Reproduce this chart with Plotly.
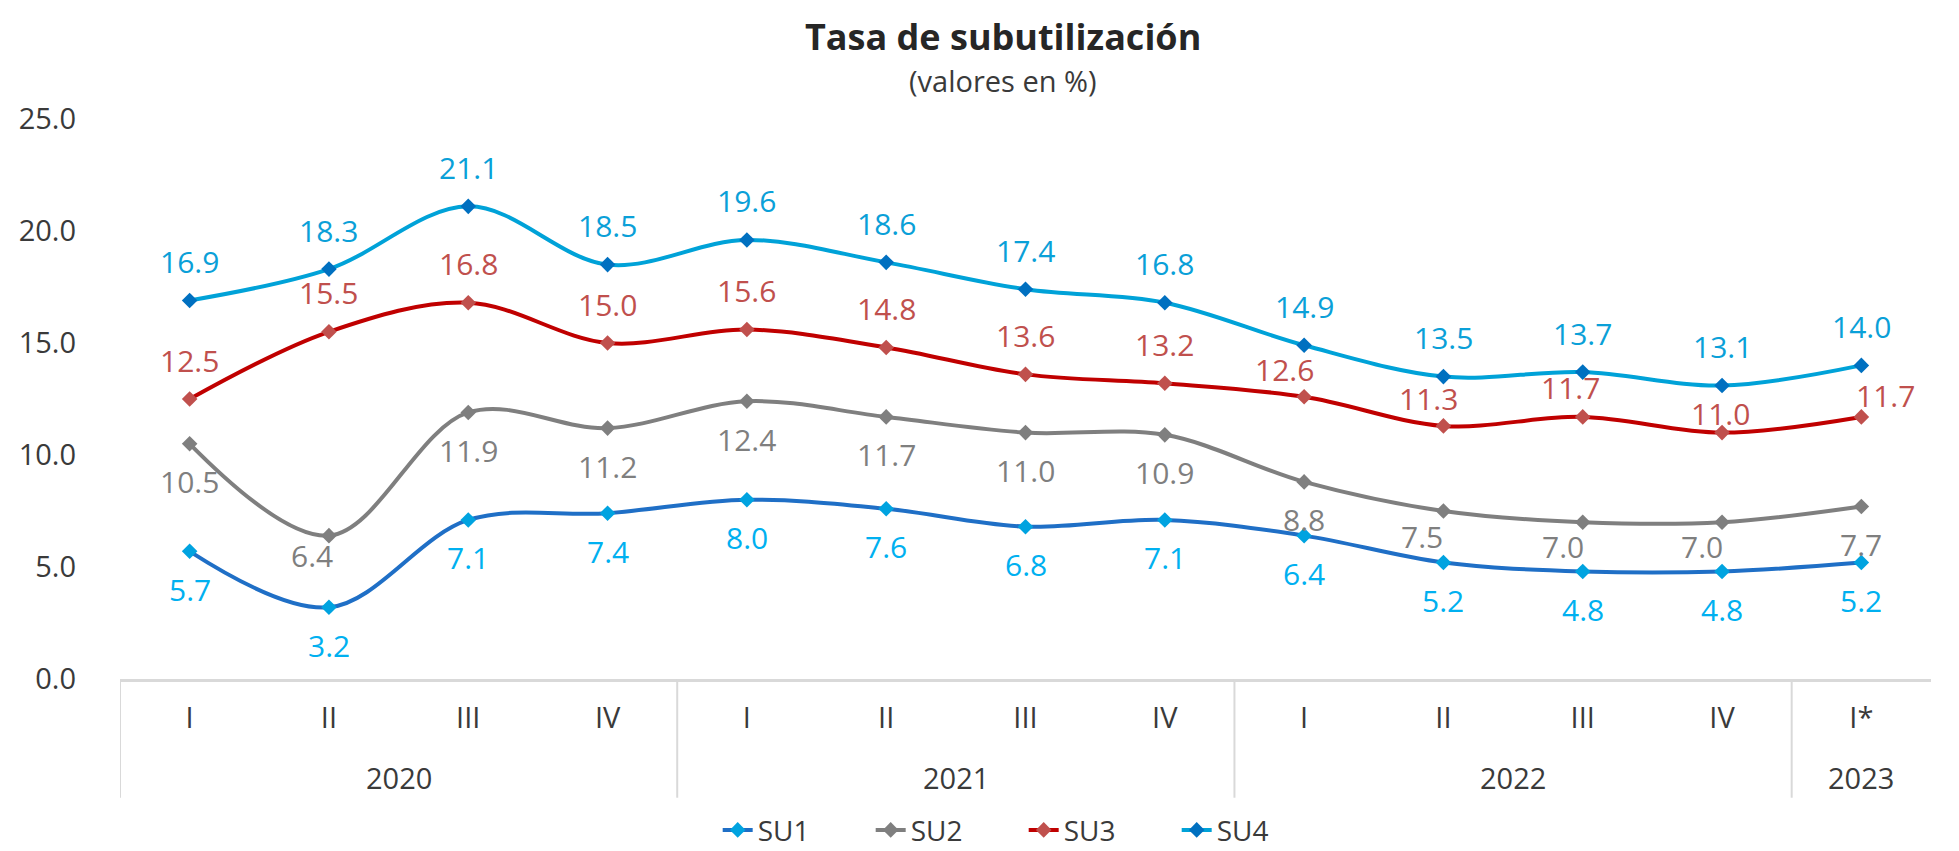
import plotly.graph_objects as go

years = ["2020"] * 4 + ["2021"] * 4 + ["2022"] * 4 + ["2023"]
quarters = ["I", "II", "III", "IV", "I", "II", "III", "IV", "I", "II", "III", "IV", "I*"]

su1 = [5.7, 3.2, 7.1, 7.4, 8.0, 7.6, 6.8, 7.1, 6.4, 5.2, 4.8, 4.8, 5.2]
su2 = [10.5, 6.4, 11.9, 11.2, 12.4, 11.7, 11.0, 10.9, 8.8, 7.5, 7.0, 7.0, 7.7]
su3 = [12.5, 15.5, 16.8, 15.0, 15.6, 14.8, 13.6, 13.2, 12.6, 11.3, 11.7, 11.0, 11.7]
su4 = [16.9, 18.3, 21.1, 18.5, 19.6, 18.6, 17.4, 16.8, 14.9, 13.5, 13.7, 13.1, 14.0]

FONT = "Open Sans"
TXT = "#3a3a3a"
pos = list(range(len(quarters)))

# label nudges (px), as placed in the original chart
up = [39] * 13
down = [-38] * 13
su2_dy = down[:]
su2_dx = [0] * 13
for i, (dx, dy) in {1: (-17, -20), 9: (-21, -25), 10: (-20, -24), 11: (-20, -24)}.items():
    su2_dx[i], su2_dy[i] = dx, dy
su3_dy = up[:]
su3_dx = [0] * 13
for i, (dx, dy) in {8: (-20, 27), 9: (-15, 27), 10: (-12, 29), 11: (-2, 19), 12: (24, 21)}.items():
    su3_dx[i], su3_dy[i] = dx, dy

series = [
    # name, values, line colour, marker colour, label colour, dx, dy
    ("SU1", su1, "#1f6fc6", "#00a3e0", "#00b0f0", [0] * 13, down),
    ("SU2", su2, "#7f7f7f", "#7f7f7f", "#7f7f7f", su2_dx, su2_dy),
    ("SU3", su3, "#c00000", "#c0504d", "#c0504d", su3_dx, su3_dy),
    ("SU4", su4, "#00a2d8", "#0070c0", "#0aa0d8", [0] * 13, up),
]

fig = go.Figure()
annotations = []
for name, vals, lc, mc, tc, dxs, dys in series:
    fig.add_trace(go.Scatter(
        x=pos, y=vals, name=name, mode="lines+markers",
        line=dict(color=lc, width=4, shape="spline", smoothing=1.0),
        marker=dict(symbol="diamond", size=12, color=mc),
        hovertemplate=name + ": %{y:.1f}<extra></extra>",
    ))
    for xi, v, dx, dy in zip(pos, vals, dxs, dys):
        annotations.append(dict(
            x=xi, y=v, text=f"{v:.1f}", showarrow=False, xshift=dx, yshift=dy,
            xanchor="center", yanchor="middle",
            font=dict(family=FONT, size=30, color=tc),
        ))

# year groups: labels under the quarters and dividers between groups
groups = []
for i, yr in enumerate(years):
    if not groups or groups[-1][0] != yr:
        groups.append([yr, i, i])
    else:
        groups[-1][2] = i
shapes = []
for yr, a, b in groups:
    annotations.append(dict(
        x=(a + b) / 2, y=-0.175, xref="x", yref="paper", text=yr, showarrow=False,
        yanchor="middle", font=dict(family=FONT, size=29, color=TXT),
    ))
    shapes.append(dict(
        type="line", xref="x", yref="paper", x0=a - 0.5, x1=a - 0.5, y0=0, y1=-0.212,
        line=dict(color="#d9d9d9", width=2),
    ))

annotations += [
    dict(text="<b>Tasa de subutilización</b>", x=0.4876, y=1.1473, xref="paper", yref="paper",
         showarrow=False, yanchor="middle", font=dict(family=FONT, size=36, color="#262626")),
    dict(text="(valores en %)", x=0.4876, y=1.0679, xref="paper", yref="paper",
         showarrow=False, yanchor="middle", font=dict(family=FONT, size=29, color=TXT)),
]

# the page body adds an 8px offset, so the figure is 8px smaller than the window
fig.update_layout(
    width=1951, height=843,
    plot_bgcolor="white", paper_bgcolor="white",
    font=dict(family=FONT, size=29, color=TXT),
    margin=dict(l=112, r=28, t=111, b=172, autoexpand=False),
    showlegend=True,
    legend=dict(orientation="h", x=0.499, xanchor="center", y=-0.27, yanchor="middle",
                font=dict(family=FONT, size=28, color=TXT), entrywidth=108),
    xaxis=dict(range=[-0.5, len(quarters) - 0.5], tickmode="array", tickvals=pos, ticktext=quarters,
               showline=True, linecolor="#d9d9d9", linewidth=3, showgrid=False, zeroline=False,
               ticks="", ticklabelstandoff=11, tickfont=dict(family=FONT, size=29, color=TXT)),
    yaxis=dict(range=[0, 25], dtick=5, tickformat=".1f", showgrid=False, zeroline=False,
               showline=False, ticks="", ticklabelstandoff=43,
               tickfont=dict(family=FONT, size=29, color=TXT)),
    annotations=annotations,
    shapes=shapes,
)

fig.write_html("out.html")
